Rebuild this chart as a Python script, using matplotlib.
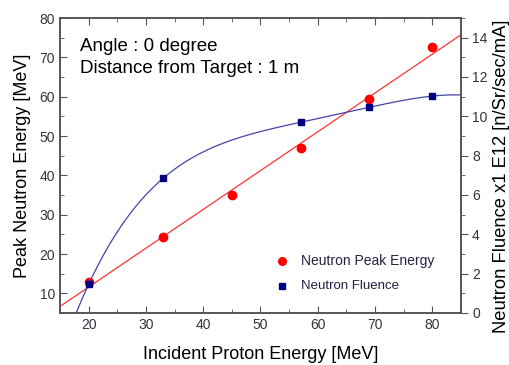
import numpy as np
import matplotlib.pyplot as plt
from matplotlib.ticker import MultipleLocator

plt.rcParams['font.family'] = ['Liberation Sans', 'DejaVu Sans']

# data
proton_e = [20, 33, 45, 57, 69, 80]
peak_e = [13.0, 24.4, 34.9, 46.9, 59.4, 72.6]
fluence_x = [20, 33, 57, 69, 80]
fluence = [1.46, 6.85, 9.7, 10.46, 11.03]

fig = plt.figure(figsize=(5.1, 3.65), dpi=100)
ax = fig.add_axes([60/510, 52/365, 401/510, 295/365])
ax2 = ax.twinx()

tick_col = '#333340'
spine_col = '#555555'

# linear fit of the peak energy
xs = np.linspace(15, 85, 300)
p1 = np.polyfit(proton_e, peak_e, 1)
ax.plot(xs, np.polyval(p1, xs), color='#ff3333', lw=0.9, zorder=2)
ax.plot(proton_e, peak_e, 'o', color='#ff0000', ms=6, zorder=3)

# polynomial fit (order 4) of the fluence
p4 = np.polyfit(fluence_x, fluence, 4)
ax2.plot(xs, np.polyval(p4, xs), color='#4444aa', lw=0.9, zorder=2)
ax2.plot(fluence_x, fluence, 's', color='#000080', ms=5, zorder=3)

ax.set_xlim(15, 85)
ax.set_ylim(5, 80)
ax2.set_ylim(0, 15)

ax.xaxis.set_major_locator(MultipleLocator(10))
ax.xaxis.set_minor_locator(MultipleLocator(5))
ax.yaxis.set_major_locator(MultipleLocator(10))
ax.yaxis.set_minor_locator(MultipleLocator(5))
ax2.yaxis.set_major_locator(MultipleLocator(2))
ax2.yaxis.set_minor_locator(MultipleLocator(1))

ax.tick_params(axis='both', which='both', direction='in', top=True,
               labelsize=10, labelcolor=tick_col, color=spine_col)
ax.tick_params(which='major', length=5)
ax.tick_params(which='minor', length=3)
ax2.tick_params(axis='y', which='both', direction='out',
                labelsize=10, labelcolor=tick_col, color=spine_col)
ax2.tick_params(which='major', length=5, pad=3)
ax2.tick_params(which='minor', length=3)
ax.set_yticks([10, 20, 30, 40, 50, 60, 70, 80])
ax2.set_yticks([0, 2, 4, 6, 8, 10, 12, 14])

for a in (ax, ax2):
    for s in a.spines.values():
        s.set_color(spine_col)
        s.set_linewidth(1.2)

ax.set_xlabel('Incident Proton Energy [MeV]', fontsize=13, labelpad=10)
ax.set_ylabel('Peak Neutron Energy [MeV]', fontsize=13, labelpad=6)
ax2.set_ylabel('Neutron Fluence x1 E12 [n/Sr/sec/mA]', fontsize=13.2,
               va='center')
ax2.yaxis.set_label_coords(1.102, 0.462)

ax.text(0.05, 0.905, 'Angle : 0 degree', transform=ax.transAxes, fontsize=13.5,
        va='center')
ax.text(0.05, 0.83, 'Distance from Target : 1 m', transform=ax.transAxes,
        fontsize=13.5, va='center')

# legend drawn by hand as in the original
ax.plot([0.553], [0.177], 'o', color='#ff0000', ms=5.5, transform=ax.transAxes)
ax.text(0.6, 0.177, 'Neutron Peak Energy', transform=ax.transAxes,
        fontsize=10, va='center', color='#222244')
ax.plot([0.553], [0.09], 's', color='#000080', ms=4, transform=ax.transAxes)
ax.text(0.6, 0.09, 'Neutron Fluence', transform=ax.transAxes,
        fontsize=9.5, va='center', color='#222244')

fig.savefig('out.png', dpi=100)
